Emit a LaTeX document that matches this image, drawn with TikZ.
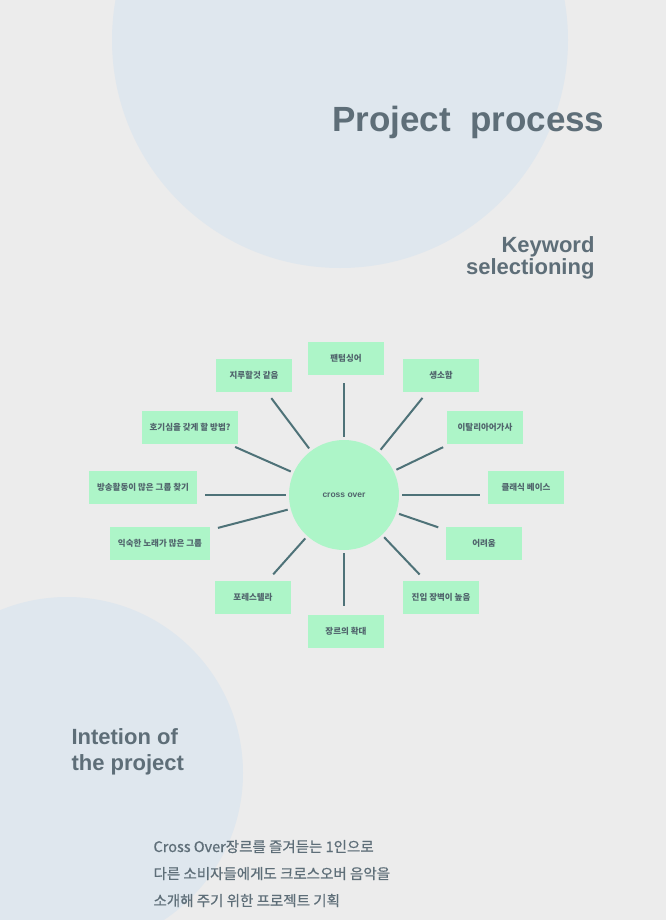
\documentclass[tikz,border=0pt]{standalone}
\usepackage{fontspec}
\setmainfont{Liberation Sans}
\newfontfamily\krfont{Noto Sans CJK KR}
\newfontfamily\krmed{Noto Sans CJK KR}[FakeBold=0.6]
\usetikzlibrary{positioning}
\definecolor{paper}{RGB}{236,236,236}
\definecolor{paleblue}{RGB}{223,231,238}
\definecolor{mint}{RGB}{173,245,200}
\definecolor{slate}{RGB}{94,110,120}
\definecolor{boxtext}{RGB}{80,100,108}
\definecolor{spokecol}{RGB}{78,114,120}

\tikzset{
  keybox/.style={fill=mint, minimum width=76pt, minimum height=33pt, inner xsep=8pt,
    text=boxtext, font=\krfont\bfseries\fontsize{8.5}{10}\selectfont},
  rayline/.style={draw=spokecol, line width=2pt, shorten <=3pt, shorten >=8pt},
  heading/.style={text=slate, font=\bfseries\fontsize{22}{18}\selectfont}
}

\begin{document}
\begin{tikzpicture}[x=1pt, y=-1pt]
  \useasboundingbox (0,0) rectangle (666,920);
  % Paper and backdrop circles
  \begin{scope}
    \clip (0,0) rectangle (666,920);
    \fill[paper] (0,0) rectangle (666,920);
    \fill[paleblue] (340,40) circle (228);
    \fill[paleblue] (67,773) circle (176);
  \end{scope}
  % Headings
  \node[anchor=base east, text=slate, font=\bfseries\fontsize{35}{40}\selectfont]
    (title) at (608,132) {Project\ \ process};
  \node[heading, anchor=base east, align=right] (keyword) at (598,274)
    {Keyword\\selectioning};
  \node[heading, anchor=base west, align=left] (intent) at (68,770)
    {Intetion of\\[8pt]the project};
  % Hub
  \node[circle, fill=mint, minimum size=110pt, inner sep=0pt, text=boxtext,
    font=\bfseries\fontsize{8.5}{10}\selectfont] (hub) at (344,495) {cross over};
  % Keywords round the hub
  \node[keybox] (b1)  at (346,358) {팬텀싱어};
  \node[keybox] (b2)  at (441,375) {생소함};
  \node[keybox] (b3)  at (485,427) {이탈리아어가사};
  \node[keybox] (b4)  at (526,487) {클래식 베이스};
  \node[keybox] (b5)  at (484,543) {어려움};
  \node[keybox] (b6)  at (441,597) {진입 장벽이 높음};
  \node[keybox] (b7)  at (346,631) {장르의 확대};
  \node[keybox] (b8)  at (253,597) {포레스텔라};
  \node[keybox] (b9)  at (160,543) {익숙한 노래가 많은 그룹};
  \node[keybox] (b10) at (143,487) {방송활동이 많은 그룹 찾기};
  \node[keybox] (b11) at (190,427) {호기심을 갖게 할 방법?};
  \node[keybox] (b12) at (254,375) {지루할것 같음};
  % straight spokes
  \draw[rayline] (hub) -- (hub |- b1.south);
  \draw[rayline] (hub) -- (hub |- b7.north);
  \draw[rayline] (hub) -- (hub -| b4.west);
  \draw[rayline] (hub) -- (hub -| b10.east);
  \foreach \k in {b2,b3,b5,b6,b8,b9,b11,b12}
    \draw[rayline] (hub) -- (\k);
  % Intention text
  \node[anchor=base west, align=left, text=slate, font=\krmed\fontsize{14.5}{27}\selectfont]
    (story) at (150,906)
    {Cross Over장르를 즐겨듣는 1인으로\\다른 소비자들에게도 크로스오버 음악을\\소개해 주기 위한 프로젝트 기획};
\end{tikzpicture}
\end{document}
